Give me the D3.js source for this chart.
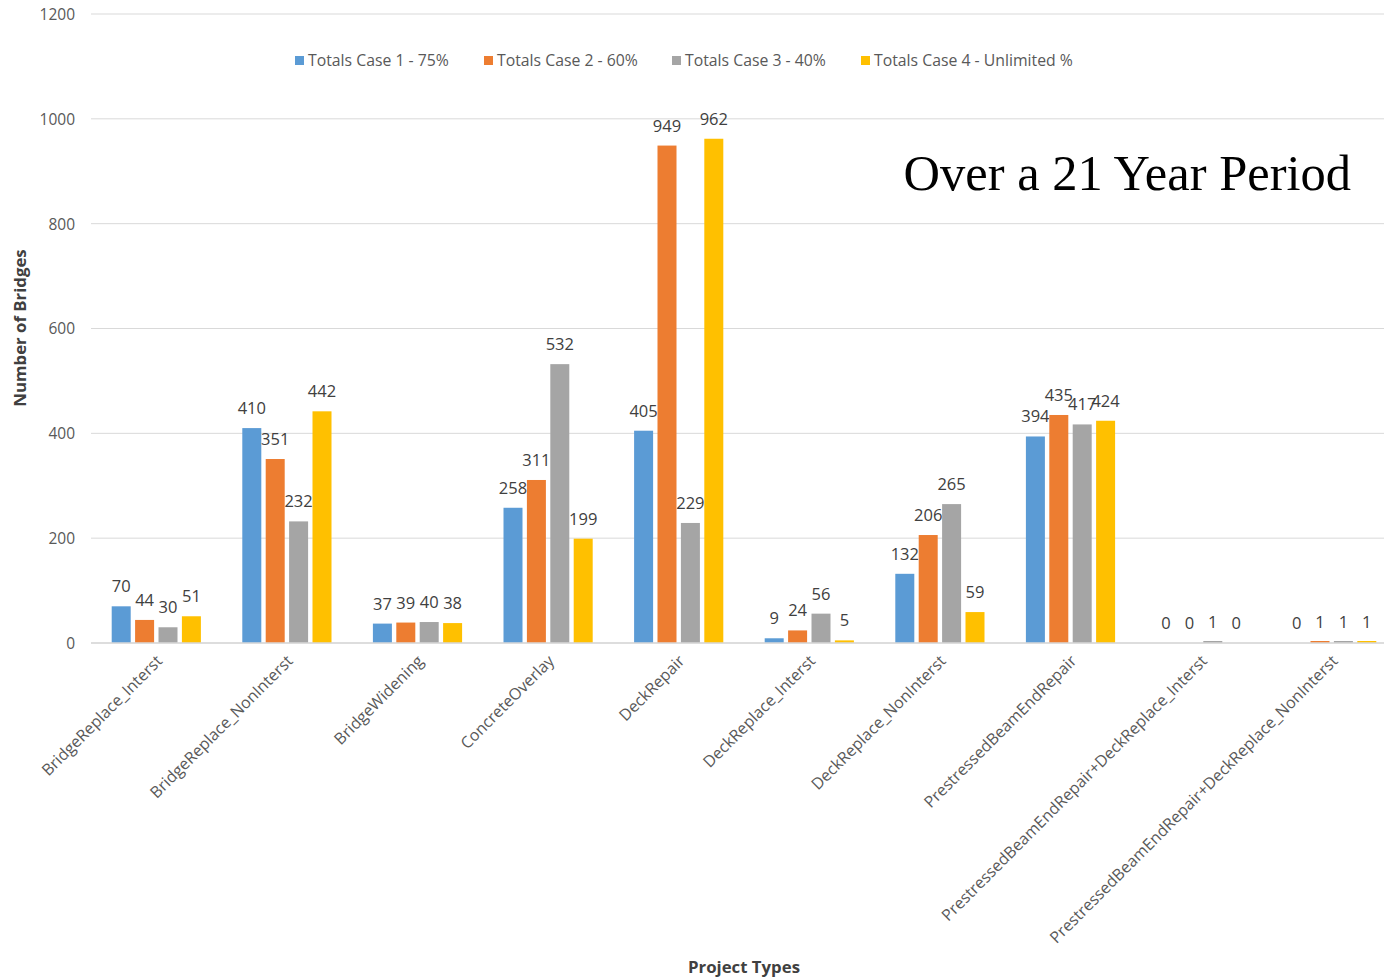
<!DOCTYPE html>
<html><head><meta charset="utf-8">
<script src="https://cdn.jsdelivr.net/npm/d3@7"></script>
<style>body{margin:0;background:#fff}svg{display:block}</style>
</head><body>
<script>
const categories = ["BridgeReplace_Interst","BridgeReplace_NonInterst","BridgeWidening","ConcreteOverlay","DeckRepair","DeckReplace_Interst","DeckReplace_NonInterst","PrestressedBeamEndRepair","PrestressedBeamEndRepair+DeckReplace_Interst","PrestressedBeamEndRepair+DeckReplace_NonInterst"];
const seriesNames = ["Totals Case 1 - 75%","Totals Case 2 - 60%","Totals Case 3 - 40%","Totals Case 4 - Unlimited %"];
const case1 = [70,410,37,258,405,9,132,394,0,0];
const case2 = [44,351,39,311,949,24,206,435,0,1];
const case3 = [30,232,40,532,229,56,265,417,1,1];
const case4 = [51,442,38,199,962,5,59,424,0,1];
const yTicks = [0,200,400,600,800,1000,1200];
const colors = ["#5B9BD5","#ED7D31","#A5A5A5","#FFC000"];
const seriesValues = [case1,case2,case3,case4];

const W=1384,H=980;
const svg=d3.select("body").append("svg").attr("width",W).attr("height",H);
const font="'Open Sans', sans-serif";
const x=d3.scaleBand().domain(categories).range([91,1397]);
const y=d3.scaleLinear().domain([0,1200]).range([643,14]);

// gridlines
svg.append("g").selectAll("line").data(yTicks).join("line")
 .attr("x1",91).attr("x2",W).attr("y1",d=>y(d)).attr("y2",d=>y(d))
 .attr("stroke","#d9d9d9").attr("stroke-width",1);
// y tick labels
const yAxis=d3.axisLeft(y).tickValues(yTicks).tickSize(0).tickPadding(0).tickFormat(d3.format("d"));
const ya=svg.append("g").attr("transform","translate(75,0)").call(yAxis);
ya.select(".domain").remove();
ya.selectAll("text").attr("font-family",font).attr("font-size",15.5).attr("fill","#595959").attr("dy","0.35em");

// bars
const gb=svg.append("g");
const bw=19, step=23.4;
seriesValues.forEach((vals,si)=>{
  const off=x.bandwidth()/2 - 2*step + si*step + (step-bw)/2;
  gb.selectAll(null).data(vals).join("rect")
   .attr("x",(d,i)=>x(categories[i])+off)
   .attr("y",d=>d>0?Math.min(y(d),y(0)-2):y(0)).attr("width",bw)
   .attr("height",d=>d>0?Math.max(2,y(0)-y(d)):0)
   .attr("fill",colors[si]);
  gb.selectAll(null).data(vals).join("text")
   .attr("x",(d,i)=>x(categories[i])+off+bw/2)
   .attr("y",d=>y(d)-14)
   .attr("text-anchor","middle").attr("font-family",font).attr("font-size",16.5)
   .attr("fill","#404040").text(d=>d);
});
// axis line
svg.append("line").attr("x1",91).attr("x2",W).attr("y1",y(0)).attr("y2",y(0)).attr("stroke","#d9d9d9").attr("stroke-width",1.5);

// x category labels
const xa=svg.append("g").attr("transform",`translate(0,${y(0)})`).call(d3.axisBottom(x).tickSize(0).tickPadding(0));
xa.select(".domain").remove();
xa.selectAll("text").attr("font-family",font).attr("font-size",16).attr("fill","#595959")
  .attr("text-anchor","end").attr("dy",null).attr("y",0)
  .attr("transform","translate(7,19) rotate(-45)");

// axis titles
svg.append("text").attr("transform","translate(26,328) rotate(-90)").attr("text-anchor","middle")
 .attr("font-family",font).attr("font-size",16.8).attr("font-weight","bold").attr("fill","#404040").text("Number of Bridges");
svg.append("text").attr("x",744).attr("y",973).attr("text-anchor","middle")
 .attr("font-family",font).attr("font-size",16.8).attr("font-weight","bold").attr("fill","#404040").text("Project Types");

// legend
const legX=[295,484,672,861];
const lg=svg.append("g");
seriesNames.forEach((n,i)=>{
  lg.append("rect").attr("x",legX[i]).attr("y",56).attr("width",9).attr("height",9).attr("fill",colors[i]);
  lg.append("text").attr("x",legX[i]+13).attr("y",60).attr("dy","0.35em").attr("font-family",font)
   .attr("font-size",15.8).attr("fill","#595959").text(n);
});

// title
svg.append("text").attr("x",1351).attr("y",190).attr("text-anchor","end")
 .attr("font-family","'Liberation Serif', 'Times New Roman', serif").attr("font-size",50.5).attr("fill","#000").text("Over a 21 Year Period");
</script>
</body></html>
